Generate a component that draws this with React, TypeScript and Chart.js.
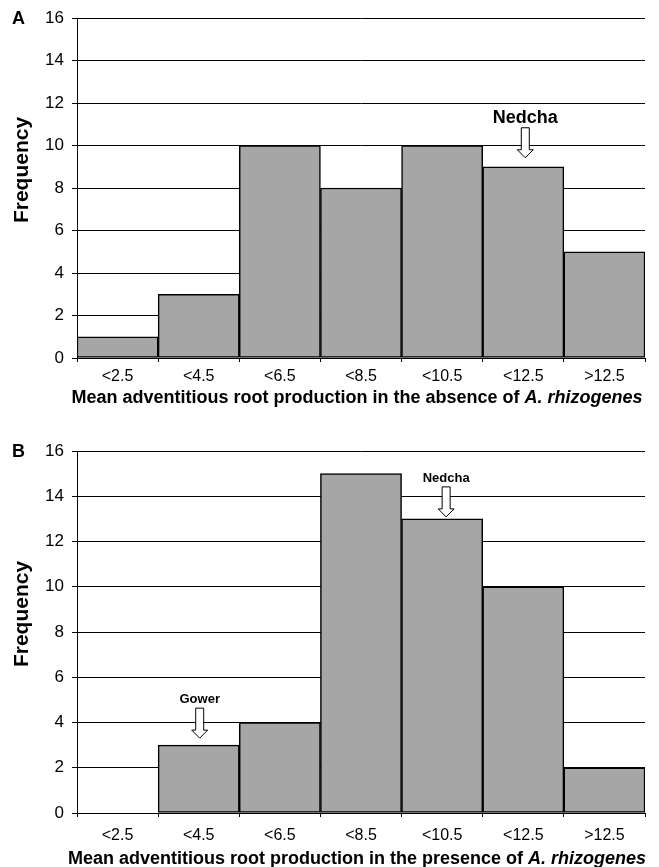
import React, { useEffect, useRef } from "react";
import { Chart, registerables } from "chart.js";

Chart.register(...registerables);

const FONT = "'Liberation Sans', Arial, Helvetica, sans-serif";

const categories = ["<2.5", "<4.5", "<6.5", "<8.5", "<10.5", "<12.5", ">12.5"];
const frequencyAbsence = [1, 3, 10, 8, 10, 9, 5];
const frequencyPresence = [0, 3, 4, 15, 13, 10, 2];
const yMin = 0;
const yMax = 16;
const yStep = 2;

const markersAbsence = [{ label: "Nedcha", index: 5 }];
const markersPresence = [
  { label: "Gower", index: 1 },
  { label: "Nedcha", index: 4 },
];

const titleAbsence = "Mean adventitious root production in the absence of ";
const titlePresence = "Mean adventitious root production in the presence of ";
const titleSpecies = "A. rhizogenes";

type Marker = { label: string; index: number };
type MarkerStyle = { dx: number; gap: number; font: number };

type PanelProps = {
  letter: string;
  data: number[];
  markers: Marker[];
  markerStyles: MarkerStyle[];
  titleText: string;
  top: number;
  height: number;
  plotTop: number;
  plotBottom: number;
  tickPad: number;
  titleBaseline: number;
};

function Panel(p: PanelProps) {
  const ref = useRef<HTMLCanvasElement | null>(null);
  useEffect(() => {
    const canvas = ref.current;
    if (!canvas) return;
    const overlay = {
      id: "overlay",
      afterDraw(chart: any) {
        const ctx = chart.ctx as CanvasRenderingContext2D;
        const ca = chart.chartArea;
        const xs = chart.scales.x;
        const ys = chart.scales.y;
        ctx.save();
        ctx.fillStyle = "#000";
        // panel letter
        ctx.font = `bold 18px ${FONT}`;
        ctx.textAlign = "left";
        ctx.textBaseline = "middle";
        ctx.fillText(p.letter, 12, ca.top + 1);
        // y title
        ctx.save();
        ctx.translate(22, (ca.top + ca.bottom) / 2 - 18);
        ctx.rotate(-Math.PI / 2);
        ctx.textAlign = "center";
        ctx.textBaseline = "middle";
        ctx.font = `bold 21px ${FONT}`;
        ctx.fillText("Frequency", 0, 0);
        ctx.restore();
        // x title
        ctx.textBaseline = "alphabetic";
        ctx.textAlign = "left";
        const f1 = `bold 18px ${FONT}`;
        const f2 = `italic bold 18px ${FONT}`;
        ctx.font = f1;
        const w1 = ctx.measureText(p.titleText).width;
        ctx.font = f2;
        const w2 = ctx.measureText(titleSpecies).width;
        const cx0 = 357 - (w1 + w2) / 2;
        ctx.font = f1;
        ctx.fillText(p.titleText, cx0, p.titleBaseline);
        ctx.font = f2;
        ctx.fillText(titleSpecies, cx0 + w1, p.titleBaseline);
        // markers
        p.markers.forEach((m, i) => {
          const st = p.markerStyles[i];
          const cx = xs.getPixelForValue(m.index) + st.dx;
          const tip = ys.getPixelForValue(p.data[m.index]) - st.gap;
          const headStart = tip - 8;
          const topY = tip - 30;
          ctx.beginPath();
          ctx.moveTo(cx - 4, topY);
          ctx.lineTo(cx + 4, topY);
          ctx.lineTo(cx + 4, headStart);
          ctx.lineTo(cx + 8, headStart);
          ctx.lineTo(cx, tip);
          ctx.lineTo(cx - 8, headStart);
          ctx.lineTo(cx - 4, headStart);
          ctx.closePath();
          ctx.fillStyle = "#fff";
          ctx.fill();
          ctx.strokeStyle = "#000";
          ctx.lineWidth = 1;
          ctx.stroke();
          ctx.fillStyle = "#000";
          ctx.font = `bold ${st.font}px ${FONT}`;
          ctx.textAlign = "center";
          ctx.textBaseline = "alphabetic";
          ctx.fillText(m.label, cx, topY - 5);
        });
        ctx.restore();
      },
    };
    const chart = new Chart(canvas, {
      type: "bar",
      data: {
        labels: categories,
        datasets: [
          {
            data: p.data,
            backgroundColor: "#a6a6a6",
            borderColor: "#000",
            borderWidth: 1.5,
            borderSkipped: false,
            categoryPercentage: 1,
            barPercentage: 1,
          },
        ],
      },
      options: {
        responsive: false,
        animation: false,
        layout: { padding: { top: p.plotTop, right: 14, bottom: 0, left: 0 } },
        plugins: { legend: { display: false }, tooltip: { enabled: false } },
        scales: {
          x: {
            offset: true,
            grid: {
              display: true,
              offset: true,
              drawOnChartArea: false,
              drawTicks: true,
              tickLength: 4,
              color: "#000",
            },
            border: { display: true, color: "#000", width: 1 },
            ticks: {
              color: "#000",
              font: { family: FONT, size: 16 },
              padding: p.tickPad,
              maxRotation: 0,
              autoSkip: false,
            },
            afterFit: (s: any) => {
              s.height = p.height - p.plotBottom;
              s.paddingLeft = 0;
              s.paddingRight = 0;
            },
          },
          y: {
            min: yMin,
            max: yMax,
            grid: { color: "#000", lineWidth: 1, tickLength: 5, drawTicks: true },
            border: { display: true, color: "#000", width: 1 },
            ticks: {
              stepSize: yStep,
              color: "#000",
              font: { family: FONT, size: 17 },
              padding: 8,
            },
            afterFit: (s: any) => {
              s.width = 77;
              s.paddingTop = 0;
              s.paddingBottom = 0;
            },
          },
        },
      },
      plugins: [overlay],
    });
    return () => chart.destroy();
  }, []);
  return (
    <canvas
      ref={ref}
      width={659}
      height={p.height}
      style={{ position: "absolute", left: 0, top: p.top, width: 659, height: p.height, display: "block" }}
    />
  );
}

export default function App() {
  return (
    <div style={{ position: "absolute", left: 0, top: 0, width: 659, height: 867, background: "#fff" }}>
      <Panel
        letter="A"
        data={frequencyAbsence}
        markers={markersAbsence}
        markerStyles={[{ dx: 2, gap: 9, font: 18 }]}
        titleText={titleAbsence}
        top={0}
        height={425}
        plotTop={18}
        plotBottom={358}
        tickPad={5}
        titleBaseline={403}
      />
      <Panel
        letter="B"
        data={frequencyPresence}
        markers={markersPresence}
        markerStyles={[
          { dx: 1, gap: 7, font: 13 },
          { dx: 4, gap: 2, font: 13 },
        ]}
        titleText={titlePresence}
        top={425}
        height={442}
        plotTop={26}
        plotBottom={388}
        tickPad={9}
        titleBaseline={439}
      />
    </div>
  );
}
